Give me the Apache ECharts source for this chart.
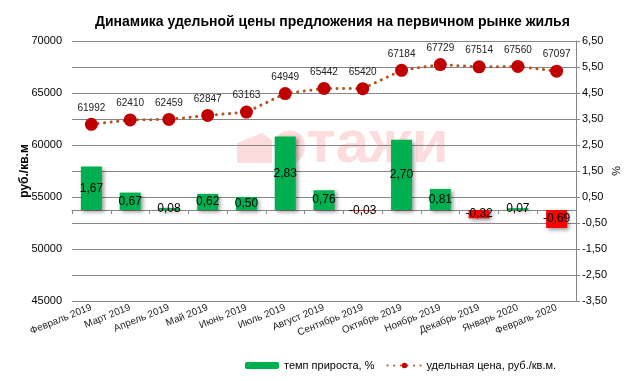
<!DOCTYPE html>
<html>
<head>
<meta charset="utf-8">
<script src="https://cdn.jsdelivr.net/npm/echarts@6/dist/echarts.min.js"></script>
<style>html,body{margin:0;padding:0;background:#fff}#c{width:642px;height:381px}</style>
</head>
<body>
<div id="c"></div>
<script>
const categories = ['Февраль 2019','Март 2019','Апрель 2019','Май 2019','Июнь 2019','Июль 2019','Август 2019','Сентябрь 2019','Октябрь 2019','Ноябрь 2019','Декабрь 2019','Январь 2020','Февраль 2020'];
const growthRate = [1.67, 0.67, 0.08, 0.62, 0.50, 2.83, 0.76, -0.03, 2.70, 0.81, -0.32, 0.07, -0.69];
const unitPrice = [61992, 62410, 62459, 62847, 63163, 64949, 65442, 65420, 67184, 67729, 67514, 67560, 67097];

const FONT = 'Liberation Sans, Arial, sans-serif';
const NARROW = '"Liberation Sans Narrow", "Arial Narrow", Liberation Sans, Arial, sans-serif';
const comma = v => Number(v).toFixed(2).replace('.', ',');
const POS = '#00B050', NEG = '#FF0000';

const chart = echarts.init(document.getElementById('c'), null, {renderer: 'canvas'});
chart.setOption({
  animation: false,
  backgroundColor: '#fff',
  title: {
    text: 'Динамика удельной цены предложения на первичном рынке жилья',
    left: 90, top: 10,
    textStyle: {fontFamily: FONT, fontSize: 14, fontWeight: 'bold', color: '#000'}
  },
  graphic: [
    {type: 'polygon', z: -10, silent: true,
     shape: {points: [[237,163],[237,143],[262,133],[272,140],[272,163]]},
     style: {fill: '#FCDCDC'}},
    {type: 'text', z: -10, silent: true, left: 274, top: 115,
     style: {text: 'этажи', font: 'bold 60px ' + FONT, fill: '#FCDCDC'}}
  ],
  legend: {
    left: 240, top: 355, itemGap: 12, itemWidth: 34, itemHeight: 7,
    textStyle: {fontFamily: FONT, fontSize: 11, color: '#000'},
    data: [
      {name: 'темп прироста, %', itemStyle: {color: POS}},
      {name: 'удельная цена, руб./кв.м.'}
    ]
  },
  grid: {left: 72, right: 66, top: 41, bottom: 80},
  xAxis: {
    type: 'category', data: categories, boundaryGap: true,
    axisLine: {lineStyle: {color: '#868686'}},
    axisTick: {show: true, interval: 0, length: 4, lineStyle: {color: '#868686'}},
    axisLabel: {interval: 0, rotate: 22, fontFamily: NARROW, fontSize: 10, color: '#222', margin: 6}
  },
  yAxis: [
    {
      type: 'value', min: 45000, max: 70000, interval: 2500,
      name: 'руб./кв.м', nameLocation: 'middle', nameGap: 41, nameMoveOverlap: false,
      nameTextStyle: {fontFamily: FONT, fontSize: 12, fontWeight: 'bold', color: '#000'},
      axisLine: {show: false}, axisTick: {show: false},
      axisLabel: {fontFamily: FONT, fontSize: 11, color: '#000', margin: 10,
        formatter: v => (v % 5000 === 0 ? String(v) : '')},
      splitLine: {lineStyle: {color: '#868686', width: 1}}
    },
    {
      type: 'value', min: -3.5, max: 6.5, interval: 1, position: 'right',
      name: '%', nameLocation: 'middle', nameGap: 34, nameRotate: -90, nameMoveOverlap: false,
      nameTextStyle: {fontFamily: FONT, fontSize: 11, color: '#000'},
      axisLine: {show: true, lineStyle: {color: '#868686'}},
      axisTick: {show: true, length: 4, lineStyle: {color: '#868686'}},
      axisLabel: {fontFamily: FONT, fontSize: 11, color: '#000', margin: 6, formatter: comma},
      splitLine: {show: false}
    }
  ],
  series: [
    {
      name: 'темп прироста, %', type: 'bar', yAxisIndex: 1, barWidth: 21,
      data: growthRate.map(v => ({value: v, itemStyle: {color: v >= 0 ? POS : NEG}})),
      itemStyle: {
        color: POS,
        shadowColor: 'rgba(0,0,0,0.4)', shadowBlur: 4, shadowOffsetX: 2, shadowOffsetY: 2
      },
      label: {show: true, position: 'inside', fontFamily: FONT, fontSize: 12, color: '#000',
        formatter: p => comma(p.value)}
    },
    {
      name: 'удельная цена, руб./кв.м.', type: 'line', yAxisIndex: 0,
      data: unitPrice, symbol: 'circle', symbolSize: 13,
      lineStyle: {type: [0.1, 6.5], width: 3, color: '#B0561C', cap: 'round'},
      itemStyle: {color: '#C00000', borderColor: '#C00000', borderWidth: 0},
      label: {show: true, position: 'top', distance: 5, fontFamily: FONT, fontSize: 10, color: '#222'},
      z: 5
    }
  ]
});
</script>
</body>
</html>
